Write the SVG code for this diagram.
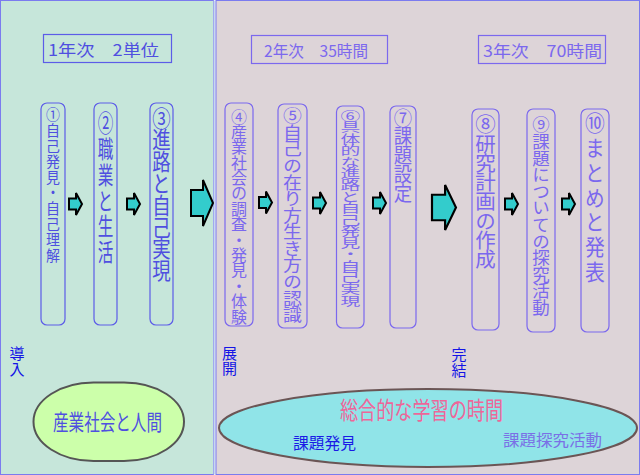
<svg xmlns="http://www.w3.org/2000/svg" width="640" height="475" viewBox="0 0 640 475">
<style>
text{font-family:"Noto Sans CJK JP","Noto Sans CJK SC",sans-serif;}
.box1{fill:none;stroke:#5c5ce8;stroke-width:1.2}
.box2{fill:none;stroke:#7b68ee;stroke-width:1.2}
.t1{fill:#4f4fe0}
.t2{fill:#7b68ee}
.v{writing-mode:vertical-rl}
.arr{fill:#33cccc;stroke:#000;stroke-width:2;stroke-linejoin:miter}
.lbl{fill:#1414e6;font-size:15px;writing-mode:vertical-rl}
</style>
<defs>
<path id="sa" d="M0,-5.5 H7 V-11 L13,0 L7,11 V5.5 H0 Z"/>
<path id="ba" d="M0,-13 H12 V-23 L22,0 L12,23 V13 H0 Z"/>
</defs>
<g id="panels">
<rect x="0.5" y="0.5" width="213" height="474" fill="#c6e6da" stroke="#7b7bef" stroke-width="1"/>
<rect x="213.5" y="0.5" width="2" height="474" fill="#c8d8ee" stroke="none"/>
<rect x="216" y="0.5" width="423.5" height="474" fill="#ddd4d8" stroke="#7b7bef" stroke-width="1"/>
</g>
<g id="titles">
<rect x="43.5" y="34.5" width="128" height="28" class="box1"/>
<text x="48" y="49" dominant-baseline="central" font-size="16" textLength="111" lengthAdjust="spacingAndGlyphs" class="t1">1年次　2単位</text>
<rect x="251.5" y="35.5" width="136" height="28" class="box2"/>
<text x="264" y="50" dominant-baseline="central" font-size="16" textLength="104" lengthAdjust="spacingAndGlyphs" class="t2">2年次　35時間</text>
<rect x="478.5" y="35.5" width="127" height="28" class="box2"/>
<text x="483" y="50" dominant-baseline="central" font-size="16" textLength="119" lengthAdjust="spacingAndGlyphs" class="t2">3年次　70時間</text>
</g>
<g id="node1">
<rect x="41" y="103" width="24" height="222" rx="6" class="box1"/>
<text transform="translate(53,107.3) scale(0.93,1)" x="0" y="0" font-size="15" letter-spacing="0.6" class="t1 v">①自己発見・自己理解</text>
</g>
<g id="node2">
<rect x="94" y="103" width="23" height="222" rx="6" class="box1"/>
<text transform="translate(105.5,111) scale(0.65,1)" x="0" y="0" font-size="24" letter-spacing="1.8" class="t1 v">②職業と生活</text>
</g>
<g id="node3">
<rect x="150" y="103" width="23" height="222" rx="6" class="box1"/>
<text transform="translate(161.5,106.75) scale(0.82,1)" x="0" y="0" font-size="22.5" letter-spacing="-0.67" class="t1 v">③進路と自己実現</text>
</g>
<g id="node4">
<rect x="225" y="103" width="28" height="223" rx="6" class="box2"/>
<text transform="translate(239,108.5)" x="0" y="0" font-size="16" letter-spacing="-0.62" class="t2 v">④産業社会の調査・発見・体験</text>
</g>
<g id="node5">
<rect x="278" y="104" width="29" height="224" rx="6" class="box2"/>
<text transform="translate(292.5,106.95) scale(1.08,1)" x="0" y="0" font-size="17.5" letter-spacing="-0.93" class="t2 v">⑤自己の在り方生き方の認識</text>
</g>
<g id="node6">
<rect x="336.5" y="106" width="27.5" height="222" rx="6" class="box2"/>
<text transform="translate(350.3,109.9) scale(1.1,0.68)" x="0" y="0" font-size="18" letter-spacing="-1" class="t2 v">⑥具体的な進路と自己発見・自己実現</text>
</g>
<g id="node7">
<rect x="390" y="106" width="26" height="222" rx="6" class="box2"/>
<text transform="translate(403,108) scale(0.92,1)" x="0" y="0" font-size="20" letter-spacing="-1.1" class="t2 v">⑦課題設定</text>
</g>
<g id="node8">
<rect x="472" y="109" width="27" height="221" rx="6" class="box2"/>
<text transform="translate(485.5,114.25)" x="0" y="0" font-size="20.5" letter-spacing="-1.2" class="t2 v">⑧研究計画の作成</text>
</g>
<g id="node9">
<rect x="527" y="109" width="28" height="223" rx="6" class="box2"/>
<text transform="translate(541,116.5) scale(1.03,1)" x="0" y="0" font-size="17" letter-spacing="-0.4" class="t2 v">⑨課題についての探究活動</text>
</g>
<g id="node10">
<rect x="581" y="109" width="28" height="223" rx="6" class="box2"/>
<text transform="translate(595,111.5) scale(0.9,1)" x="0" y="0" font-size="22" letter-spacing="2.9" class="t2 v">⑩まとめと発表</text>
</g>
<g id="connectors">
<use href="#sa" class="arr" transform="translate(69,204)"/>
<use href="#sa" class="arr" transform="translate(127,204)"/>
<use href="#ba" class="arr" transform="translate(191,203)"/>
<use href="#sa" class="arr" transform="translate(259,202.5)"/>
<use href="#sa" class="arr" transform="translate(313,203)"/>
<use href="#sa" class="arr" transform="translate(373,203)"/>
<use href="#ba" class="arr" transform="translate(432,207.5) scale(1.09,0.98)"/>
<use href="#sa" class="arr" transform="translate(505,204)"/>
<use href="#sa" class="arr" transform="translate(562,204)"/>
</g>
<g id="stage-labels">
<text x="17" y="345.5" letter-spacing="1.5" class="lbl">導入</text>
<text x="229.5" y="345.5" letter-spacing="0.5" class="lbl">展開</text>
<text x="459" y="346.5" letter-spacing="1" class="lbl">完結</text>
</g>
<g id="industry">
<rect x="33.5" y="382.5" width="150.5" height="78.5" rx="60" ry="39.25" fill="#ccffaa" stroke="#555555" stroke-width="2"/>
<text x="53" y="420" dominant-baseline="central" font-size="22" textLength="109" lengthAdjust="spacingAndGlyphs" class="t1">産業社会と人間</text>
</g>
<g id="integrated">
<ellipse cx="428" cy="428" rx="209" ry="39" fill="#90e4e8" stroke="#6b5555" stroke-width="2"/>
<text x="340" y="408" dominant-baseline="central" font-size="24" textLength="163" lengthAdjust="spacingAndGlyphs" fill="#ee6699">総合的な学習の時間</text>
<text x="293" y="442" dominant-baseline="central" font-size="16" textLength="63" lengthAdjust="spacingAndGlyphs" fill="#1a1ae6">課題発見</text>
<text x="503" y="439" dominant-baseline="central" font-size="16" textLength="99" lengthAdjust="spacingAndGlyphs" fill="#7a70e6">課題探究活動</text>
</g>
</svg>
